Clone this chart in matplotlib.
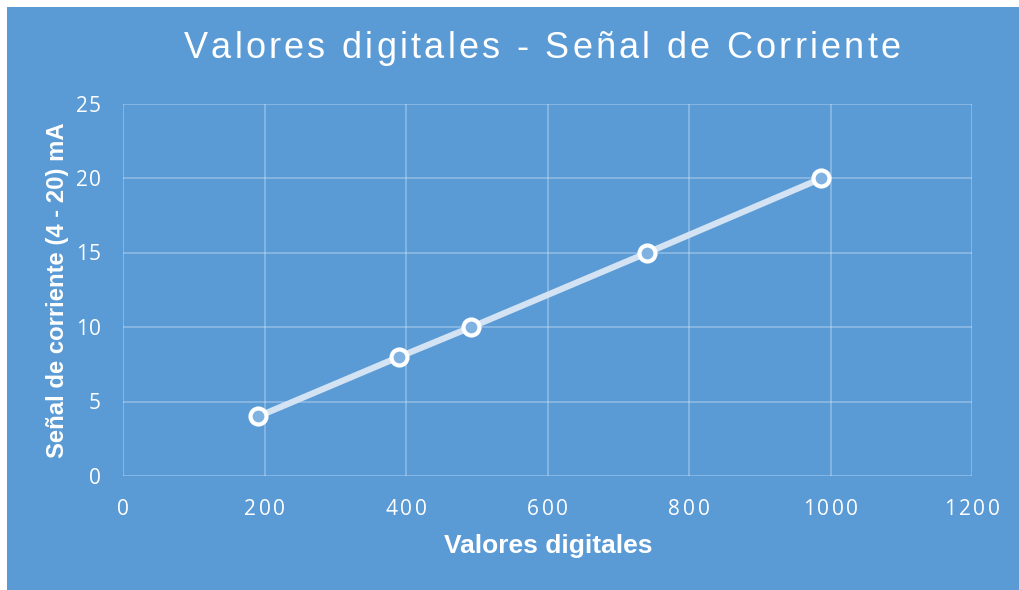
import matplotlib
matplotlib.use("Agg")
import matplotlib.pyplot as plt
from matplotlib.patches import Rectangle
from matplotlib.font_manager import FontProperties, findfont, get_font

x_values = [191, 390, 492, 741, 987]
y_values = [4, 8, 10, 15, 20]
x_ticks = [0, 200, 400, 600, 800, 1000, 1200]
y_ticks = [0, 5, 10, 15, 20, 25]

title = "Valores digitales - Señal de Corriente"
xlabel = "Valores digitales"
ylabel = "Señal de corriente (4 - 20) mA"

BLUE = "#5B9BD5"
W, H = 1019, 590
DPI = 100
fig = plt.figure(figsize=(W / DPI, H / DPI), dpi=DPI, facecolor="white")
fig.patches.append(Rectangle((7 / W, 0), 1 - 7 / W, 1 - 7 / H, transform=fig.transFigure,
                             facecolor=BLUE, edgecolor="none", zorder=-10))

ax = fig.add_axes([123 / W, 1 - 476 / H, (972 - 123) / W, (476 - 104) / H])
ax.set_facecolor("none")
ax.set_xlim(0, 1200)
ax.set_ylim(0, 25)
ax.set_xticks(x_ticks)
ax.set_yticks(y_ticks)
ax.grid(True, color="white", alpha=0.3, linewidth=1.2)
ax.set_axisbelow(True)
for s in ax.spines.values():
    s.set_visible(False)
ax.tick_params(length=0, labelbottom=False, labelleft=False)

ax.plot(x_values, y_values, color="#D3E3F3", linewidth=4.5, solid_capstyle="round",
        marker="o", markersize=11.5, markerfacecolor="#7FB2E0", markeredgecolor="white",
        markeredgewidth=3.0, zorder=3)


def spaced_text(px, py, s, size, spacing, family, weight="normal", ha="center"):
    """Draw text with extra letter spacing; px, py in pixels from top-left, py = baseline."""
    prop = FontProperties(family=family, size=size, weight=weight)
    font = get_font(findfont(prop))
    font.set_size(size, DPI)
    advs = [font.load_char(ord(c)).linearHoriAdvance / 65536 for c in s]
    total = sum(advs) + spacing * (len(s) - 1)
    if ha == "center":
        x = px - total / 2
    elif ha == "right":
        x = px - total
    else:
        x = px
    for c, a in zip(s, advs):
        fig.text(x / W, 1 - py / H, c, ha="left", va="baseline", fontproperties=prop,
                 color="white")
        x += a + spacing


# tick labels positioned through the axes' data transform
for t in x_ticks:
    xp, _ = ax.transData.transform((t, 0))
    spaced_text(xp, 515, str(t), 15, 2.6, "Open Sans")
for t in y_ticks:
    _, yp = ax.transData.transform((0, t))
    spaced_text(101, H - yp + 7.5, str(t), 15, 1.0, "Open Sans", ha="right")

spaced_text(542, 58, title, 26, 3.2, "Liberation Sans")
fig.text(548 / W, 1 - 553 / H, xlabel, ha="center", va="baseline", fontsize=19,
         fontweight="bold", fontfamily="Liberation Sans", color="white")
fig.text(64 / W, 1 - 290 / H, ylabel, ha="center", va="baseline", rotation=90,
         rotation_mode="anchor", fontsize=17.2, fontweight="bold",
         fontfamily="Liberation Sans", color="white")

fig.savefig("out.png", dpi=DPI, facecolor="white")
